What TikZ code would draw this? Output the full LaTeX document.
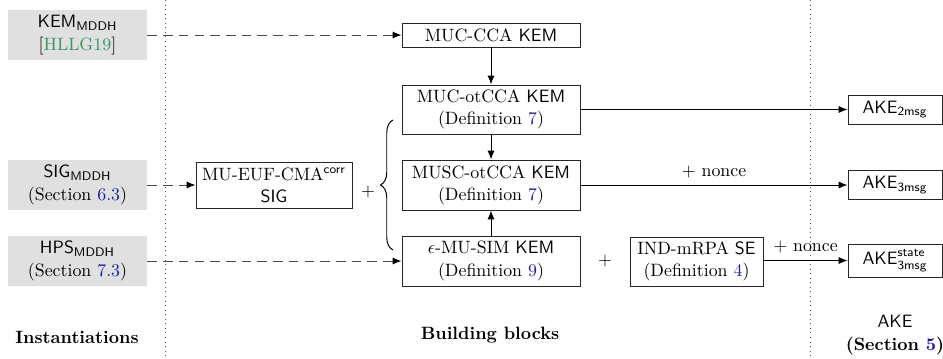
\documentclass[tikz,border=0pt]{standalone}
\usetikzlibrary{arrows.meta,decorations.pathreplacing}
\definecolor{linkblue}{rgb}{0.12,0.12,0.62}
\definecolor{citegreen}{rgb}{0.22,0.58,0.4}
\definecolor{instgray}{rgb}{0.878,0.878,0.878}
\newcommand{\lnk}[1]{\textcolor{linkblue}{#1}}
\begin{document}
\begin{tikzpicture}[x=0.56pt,y=-0.56pt,
  every node/.style={font=\fontsize{10}{12.5}\selectfont},
  bw/.style={minimum width=#1*0.56pt},
  bh/.style={minimum height=#1*0.56pt},
  inst/.style={fill=instgray,align=center,inner sep=0pt,bw=139,bh=50},
  blk/.style={draw=black!85,line width=0.55pt,align=center,inner sep=0pt},
  arr/.style={-{Latex[length=5pt,width=4pt]},line width=0.55pt,black},
  darr/.style={-{Latex[length=5pt,width=4pt,color=black]},line width=0.55pt,
    dash pattern=on 5.4pt off 3.4pt,black!70},
  sep/.style={dotted,line width=0.55pt,black!70},
  title/.style={font=\fontsize{10}{12.5}\selectfont\bfseries,align=center}]
\useasboundingbox (0,0) rectangle (943,358);

% column separators
\coordinate (s1t) at (165,0);  \coordinate (s1b) at (165,358);
\coordinate (s2t) at (810.5,0); \coordinate (s2b) at (810.5,358);
\draw[sep] (s1t) -- (s1b);
\draw[sep] (s2t) -- (s2b);

% instantiations
\node[inst] (kem) at (77.5,35)  {$\mathsf{KEM}_{\mathsf{MDDH}}$\\{}[\textcolor{citegreen}{HLLG19}]};
\node[inst] (sig) at (77.5,185) {$\mathsf{SIG}_{\mathsf{MDDH}}$\\(Section \lnk{6.3})};
\node[inst] (hps) at (77.5,261) {$\mathsf{HPS}_{\mathsf{MDDH}}$\\(Section \lnk{7.3})};

% building blocks
\node[blk,bw=178,bh=24] (mucca)  at (491,35)  {MUC-CCA \textsf{KEM}};
\node[blk,bw=178,bh=49] (muot)   at (491,109.5) {MUC-otCCA \textsf{KEM}\\(Definition \lnk{7})};
\node[blk,bw=178,bh=50] (musc)   at (491,185) {MUSC-otCCA \textsf{KEM}\\(Definition \lnk{7})};
\node[blk,bw=178,bh=50] (sim)    at (491,261) {$\epsilon$-MU-SIM \textsf{KEM}\\(Definition \lnk{9})};
\node[blk,bw=156,bh=46] (euf)    at (274,185) {MU-EUF-CMA$^{\mathsf{corr}}$\\\textsf{SIG}};
\node[blk,bw=133,bh=49] (se)     at (696.5,261.5) {IND-mRPA \textsf{SE}\\(Definition \lnk{4})};
\node (plusa) at (368,192) {$+$};
\node (plusb) at (605,261) {$+$};

% AKE protocols
\node[blk,bw=94,bh=29] (ake2)  at (895,109.5) {$\mathsf{AKE}_{\mathsf{2msg}}$};
\node[blk,bw=94,bh=29] (ake3)  at (895,185)   {$\mathsf{AKE}_{\mathsf{3msg}}$};
\node[blk,bw=94,bh=33] (ake3s) at (895,260.5) {$\mathsf{AKE}^{\mathsf{state}}_{\mathsf{3msg}}$};

% brace over the three KEM notions
\coordinate (bt) at (393,120);
\coordinate (bb) at (393,250);
\draw[line width=0.55pt,decorate,decoration={brace,amplitude=7pt}] (bb) -- (bt);

% column titles
\node[title] (tinst) at (77,337) {Instantiations};
\node[title] (tblk)  at (490,335) {Building blocks};
\node[title] (take)  at (895,335) {\textmd{\textsf{AKE}}\\(Section \lnk{5})};

% connectors
\draw[darr] (kem.east |- mucca.west) -- (mucca.west);
\draw[darr] (sig.east) -- (euf.west);
\draw[darr] (hps.east) -- (sim.west);
\draw[arr] (mucca) -- (muot);
\draw[arr] (muot) -- (musc);
\draw[arr] (sim) -- (musc);
\draw[arr] (muot.east) -- (ake2.west);
\draw[arr] (musc.east) -- node[above=0.5pt] {$+$ nonce} (ake3.west);
\draw[arr] (se.east |- ake3s.west) -- node[above=0.5pt] {$+$ nonce} (ake3s.west);
\end{tikzpicture}
\end{document}
